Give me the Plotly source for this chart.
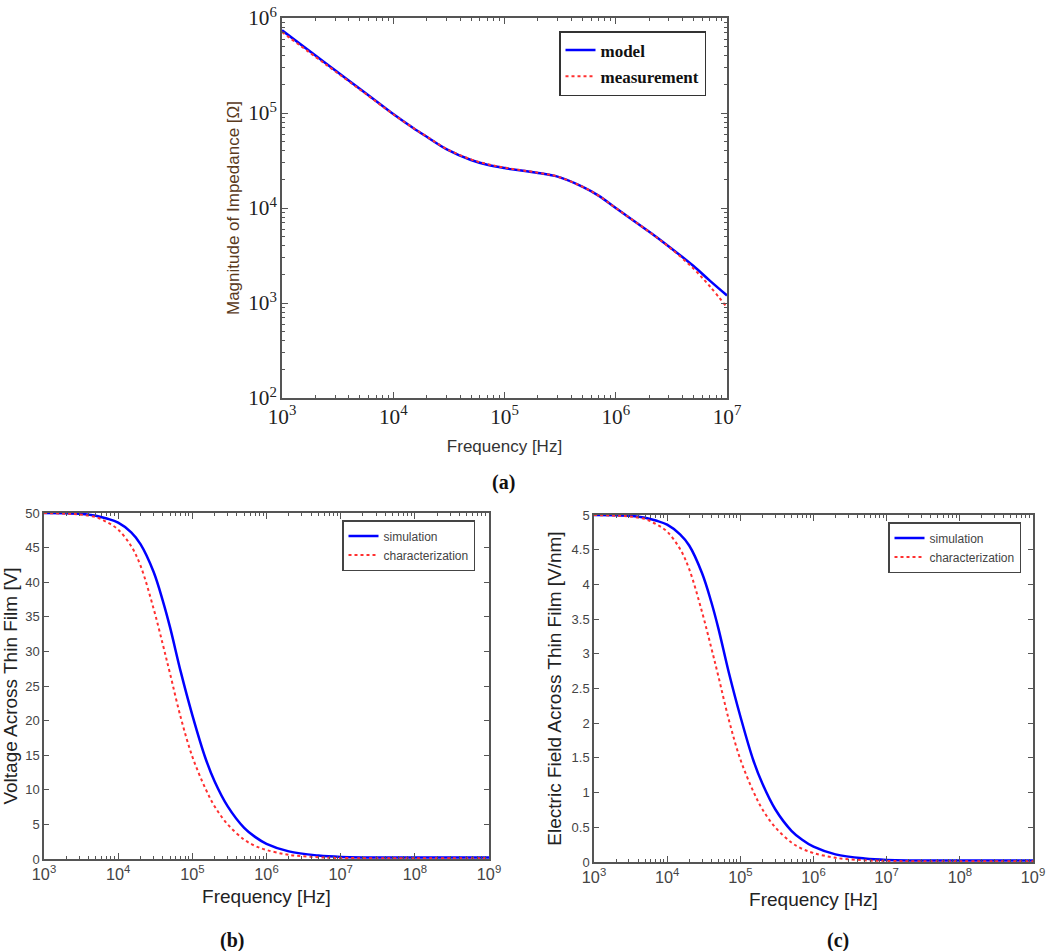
import plotly.graph_objects as go

# ---------------- data ----------------
# (a) impedance magnitude [Ohm] vs frequency [Hz]
freq_a = [1e3, 2e3, 3e3, 5e3, 7e3, 1e4, 1.5e4, 2e4, 3e4, 5e4, 7e4, 1e5, 2e5, 3e5,
          5e5, 7e5, 1e6, 2e6, 3e6, 5e6, 7e6, 1e7]
model = [7.41e5, 4.03e5, 2.82e5, 1.80e5, 1.34e5, 9.77e4, 7.0e4, 5.62e4, 4.17e4, 3.2e4,
         2.85e4, 2.63e4, 2.34e4, 2.14e4, 1.68e4, 1.35e4, 1.0e4, 5.62e3, 3.94e3, 2.45e3,
         1.72e3, 1.2e3]
measurement = [7.1e5, 3.9e5, 2.75e5, 1.77e5, 1.32e5, 9.7e4, 7.0e4, 5.65e4, 4.2e4, 3.25e4,
               2.9e4, 2.66e4, 2.35e4, 2.14e4, 1.68e4, 1.35e4, 1.0e4, 5.6e3, 3.9e3, 2.3e3,
               1.5e3, 0.9e3]

# (b) voltage [V], (c) electric field [V/nm] vs frequency [Hz]
freq_bc = [1e3, 2e3, 3e3, 5e3, 7e3, 1e4, 1.5e4, 2e4, 3e4, 4e4, 5e4, 7e4, 1e5, 1.5e5,
           2e5, 3e5, 5e5, 7e5, 1e6, 2e6, 5e6, 1e7, 1e8, 1e9]
volt_sim = [50, 49.95, 49.9, 49.6, 49.2, 48.6, 47.2, 45.5, 41.5, 37.3, 33.5, 27.0, 20.8,
            14.6, 11.2, 7.6, 4.5, 3.2, 2.2, 1.1, 0.5, 0.3, 0.2, 0.2]
volt_char = [50, 49.9, 49.8, 49.4, 48.7, 47.6, 45.2, 42.4, 36.2, 31.0, 26.8, 20.4, 14.8,
             10.2, 7.6, 5.0, 2.8, 1.9, 1.3, 0.6, 0.25, 0.15, 0.1, 0.1]
field_sim = [5, 4.995, 4.99, 4.96, 4.92, 4.86, 4.72, 4.56, 4.16, 3.75, 3.37, 2.72, 2.1,
             1.47, 1.13, 0.76, 0.45, 0.32, 0.22, 0.11, 0.05, 0.03, 0.02, 0.02]
field_char = [5, 4.99, 4.98, 4.94, 4.87, 4.76, 4.51, 4.22, 3.6, 3.09, 2.68, 2.04, 1.48,
              1.02, 0.76, 0.5, 0.28, 0.19, 0.13, 0.06, 0.025, 0.015, 0.01, 0.01]

a_legend = ["model", "measurement"]
bc_legend = ["simulation", "characterization"]
panel_labels = ["(a)", "(b)", "(c)"]

BLUE = "#0000ff"
RED = "#ff3030"
FRAME = "#555555"
SERIF = "Liberation Serif, Times New Roman, serif"
SANS = "Liberation Sans, Arial, sans-serif"

W, H = 1050, 951
def px(x):
    return x / W
def py(y):
    return 1 - y / H

fig = go.Figure()

# (a)
fig.add_trace(go.Scatter(x=freq_a, y=model, mode="lines", name=a_legend[0],
                         line=dict(color=BLUE, width=2.5, shape="spline"),
                         xaxis="x", yaxis="y", legend="legend", legendgroup="a1"))
fig.add_trace(go.Scatter(x=freq_a, y=measurement, mode="lines", name=a_legend[1],
                         line=dict(color=RED, width=2, dash="dot", shape="spline"),
                         xaxis="x", yaxis="y", legend="legend", legendgroup="a2"))
# (b)
fig.add_trace(go.Scatter(x=freq_bc, y=volt_sim, mode="lines", name=bc_legend[0],
                         line=dict(color=BLUE, width=2.5, shape="spline"),
                         xaxis="x2", yaxis="y2", legend="legend2"))
fig.add_trace(go.Scatter(x=freq_bc, y=volt_char, mode="lines", name=bc_legend[1],
                         line=dict(color=RED, width=2, dash="dot", shape="spline"),
                         xaxis="x2", yaxis="y2", legend="legend2"))
# (c)
fig.add_trace(go.Scatter(x=freq_bc, y=field_sim, mode="lines", name=bc_legend[0],
                         line=dict(color=BLUE, width=2.5, shape="spline"),
                         xaxis="x3", yaxis="y3", legend="legend3"))
fig.add_trace(go.Scatter(x=freq_bc, y=field_char, mode="lines", name=bc_legend[1],
                         line=dict(color=RED, width=2, dash="dot", shape="spline"),
                         xaxis="x3", yaxis="y3", legend="legend3"))

def log_axis(domain, rng, anchor, font, title, title_font, standoff):
    return dict(type="log", domain=domain, range=rng, anchor=anchor, dtick=1,
                exponentformat="power", showgrid=False, zeroline=False, automargin=False,
                showline=True, linecolor=FRAME, linewidth=1.5, mirror="ticks",
                ticks="inside", ticklen=6, tickcolor=FRAME,
                minor=dict(ticks="inside", ticklen=3, tickcolor=FRAME, dtick="D1",
                           showgrid=False),
                tickfont=font, title=dict(text=title, font=title_font, standoff=standoff))

def lin_axis(domain, rng, anchor, dtick, font, title, title_font, standoff):
    return dict(type="linear", domain=domain, range=rng, anchor=anchor, dtick=dtick,
                showgrid=False, zeroline=False, automargin=False,
                showline=True, linecolor=FRAME, linewidth=1.5, mirror="ticks",
                ticks="inside", ticklen=5, tickcolor=FRAME,
                tickfont=font, title=dict(text=title, font=title_font, standoff=standoff))

tick_a = dict(family=SERIF, size=17, color="#222222")
tick_bc = dict(family=SANS, size=13, color="#444444")
title_font = dict(family=SANS, size=17, color="#333333")
title_bc = dict(family=SANS, size=19, color="#222222")

fig.update_layout(
    template="none",
    width=W, height=H,
    margin=dict(l=0, r=0, t=0, b=0, autoexpand=False),
    paper_bgcolor="white", plot_bgcolor="white",
    xaxis=log_axis([px(282), px(727)], [3, 7], "y", tick_a, "Frequency [Hz]",
                   title_font, 12),
    yaxis=log_axis([py(398), py(18)], [2, 6], "x", tick_a,
                   "Magnitude of Impedance [Ω]",
                   dict(family=SANS, size=17, color="#5a3a1c"), 4),
    xaxis2=log_axis([px(44), px(489)], [3, 9], "y2", tick_bc, "Frequency [Hz]",
                    title_bc, 8),
    yaxis2=lin_axis([py(859), py(513)], [0, 50], "x2", 5, tick_bc,
                    "Voltage Across Thin Film [V]", title_bc, 5),
    xaxis3=log_axis([px(594), px(1033)], [3, 9], "y3", tick_bc, "Frequency [Hz]",
                    title_bc, 8),
    yaxis3=lin_axis([py(862), py(515)], [0, 5], "x3", 0.5, tick_bc,
                    "Electric Field Across Thin Film [V/nm]", title_bc, 5),
    legend=dict(x=px(559), y=py(31), xanchor="left", yanchor="top",
                bgcolor="white", bordercolor="#333333", borderwidth=1.5,
                font=dict(family=SERIF, size=17, color="#111111", weight="bold"),
                tracegroupgap=1),
    legend2=dict(x=px(342), y=py(520), xanchor="left", yanchor="top",
                 bgcolor="white", bordercolor="#444444", borderwidth=1.5,
                 font=dict(family=SANS, size=12, color="#444444")),
    legend3=dict(x=px(888), y=py(522), xanchor="left", yanchor="top",
                 bgcolor="white", bordercolor="#444444", borderwidth=1.5,
                 font=dict(family=SANS, size=12, color="#444444")),
    showlegend=True,
)

label_pos = [(503, 483), (232, 940), (838, 940)]
for lab, (x, y) in zip(panel_labels, label_pos):
    fig.add_annotation(x=px(x), y=py(y), xref="paper", yref="paper", text=f"<b>{lab}</b>",
                       showarrow=False, font=dict(family=SERIF, size=20, color="#111111"),
                       xanchor="center", yanchor="middle")

fig.write_html("out.html", config={"displayModeBar": False},
               post_script="document.body.style.margin='0';document.body.style.overflow='hidden';")
